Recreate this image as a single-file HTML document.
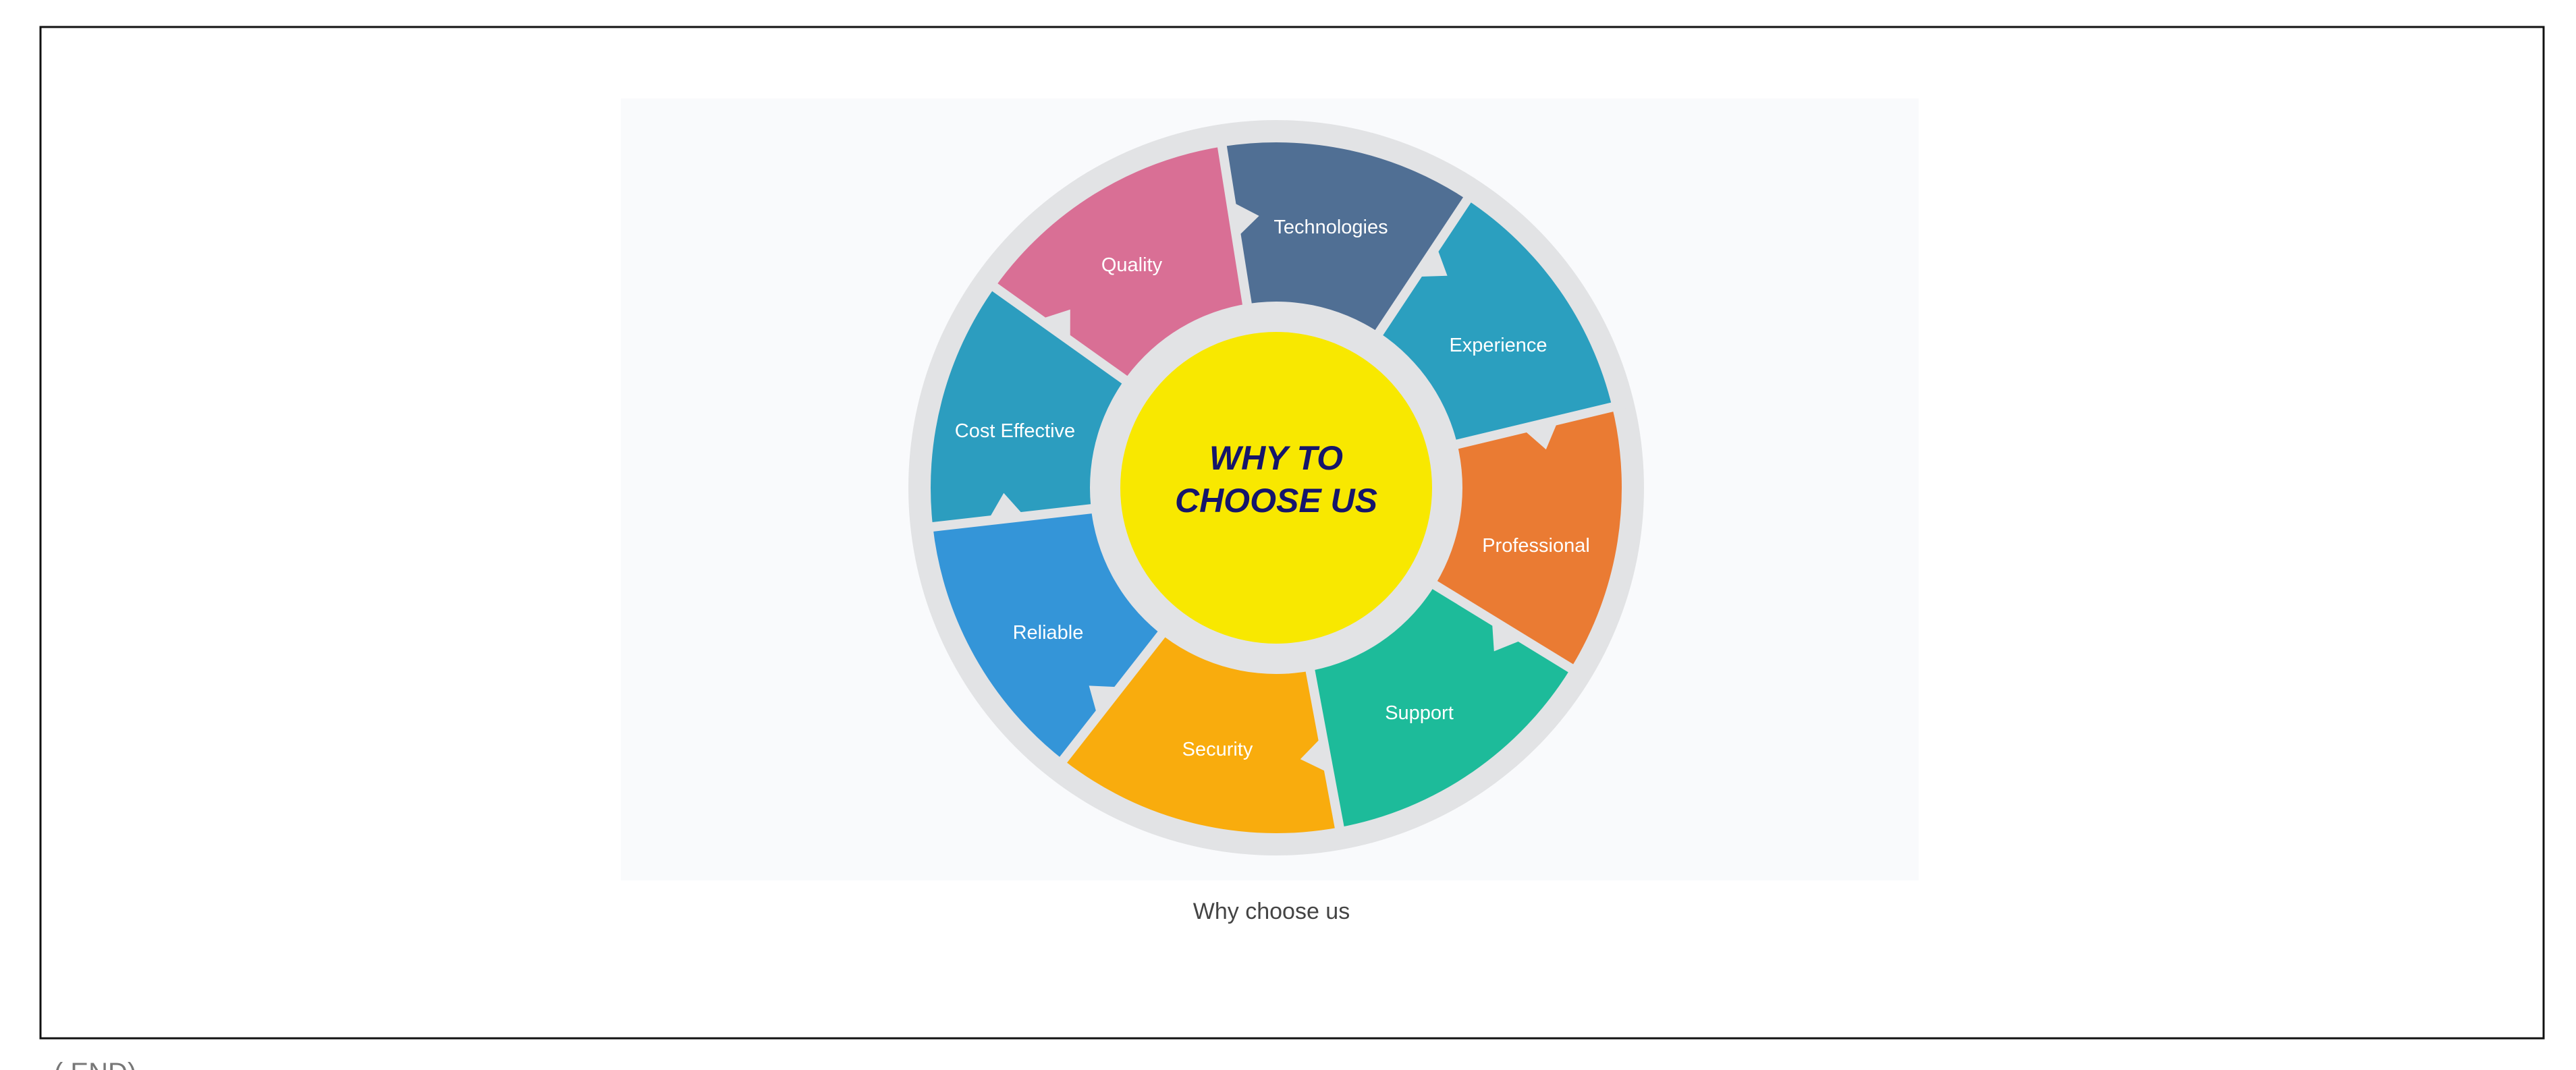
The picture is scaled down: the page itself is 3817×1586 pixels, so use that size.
<!DOCTYPE html>
<html><head><meta charset="utf-8"><style>
html,body{margin:0;padding:0;background:#fff;}
body{width:3817px;height:1586px;overflow:hidden;position:relative;}
</style></head><body>
<svg width="3817" height="1586" viewBox="0 0 3817 1586" xmlns="http://www.w3.org/2000/svg" style="position:absolute;left:0;top:0">
<rect x="60" y="40" width="3709" height="1499" fill="#fff" stroke="#111" stroke-width="3"/>
<rect x="920" y="146" width="1923" height="1159" fill="#f9fafc"/>
<circle cx="1891" cy="723" r="545" fill="#e2e3e5"/>
<g>
<path d="M1891 723 L1810.9 217.3 A512 512 0 0 1 2173.6 296.0 Z" fill="#506f94"/>
<path d="M1891 723 L2173.6 296.0 A512 512 0 0 1 2388.9 603.5 Z" fill="#2b9fbf"/>
<path d="M1891 723 L2388.9 603.5 A512 512 0 0 1 2327.5 990.5 Z" fill="#ea7b33"/>
<path d="M1891 723 L2327.5 990.5 A512 512 0 0 1 1984.3 1226.4 Z" fill="#1dbb9a"/>
<path d="M1891 723 L1984.3 1226.4 A512 512 0 0 1 1575.8 1126.5 Z" fill="#f9ac0d"/>
<path d="M1891 723 L1575.8 1126.5 A512 512 0 0 1 1382.3 781.0 Z" fill="#3495d8"/>
<path d="M1891 723 L1382.3 781.0 A512 512 0 0 1 1474.2 425.7 Z" fill="#2c9dbf"/>
<path d="M1891 723 L1474.2 425.7 A512 512 0 0 1 1810.9 217.3 Z" fill="#d96f95"/>
</g>
<g stroke="#e2e3e5" stroke-width="14">
<line x1="1891" y1="723" x2="1808" y2="199"/>
<line x1="1891" y1="723" x2="2184" y2="281"/>
<line x1="1891" y1="723" x2="2407" y2="599"/>
<line x1="1891" y1="723" x2="2343" y2="1000"/>
<line x1="1891" y1="723" x2="1988" y2="1244"/>
<line x1="1891" y1="723" x2="1564" y2="1141"/>
<line x1="1891" y1="723" x2="1364" y2="783"/>
<line x1="1891" y1="723" x2="1459" y2="415"/>
</g>
<g fill="#e2e3e5">
<polygon points="1832.3,352.6 1823.7,298.3 1865.6,320.0"/>
<polygon points="2098.0,410.3 2128.3,364.4 2144.6,408.8"/>
<polygon points="2255.7,635.5 2309.1,622.6 2290.8,666.2"/>
<polygon points="2210.7,918.9 2257.6,947.7 2213.8,965.4"/>
<polygon points="1959.3,1091.7 1969.3,1145.8 1926.8,1125.2"/>
<polygon points="1660.1,1018.5 1626.2,1061.8 1613.6,1016.4"/>
<polygon points="1518.4,765.5 1463.8,771.7 1487.3,730.7"/>
<polygon points="1585.7,505.2 1540.9,473.3 1585.8,458.7"/>
</g>
<circle cx="1891" cy="723" r="276" fill="#e2e3e5"/>
<circle cx="1891" cy="723" r="231" fill="#f8e800"/>
<g font-family="Liberation Sans, sans-serif" font-size="29" fill="#fff" text-anchor="middle">
<text x="1972" y="346">Technologies</text>
<text x="1677" y="402">Quality</text>
<text x="2220" y="521">Experience</text>
<text x="1504" y="648">Cost Effective</text>
<text x="2276" y="818">Professional</text>
<text x="1553" y="947">Reliable</text>
<text x="2103" y="1066">Support</text>
<text x="1804" y="1120">Security</text>
</g>
<g font-family="Liberation Sans, sans-serif" font-size="50" font-weight="bold" font-style="italic" fill="#15156b" text-anchor="middle">
<text x="1891" y="696">WHY TO</text>
<text x="1891" y="759">CHOOSE US</text>
</g>
<text x="1884" y="1362" font-family="Liberation Sans, sans-serif" font-size="34" fill="#444" text-anchor="middle">Why choose us</text>
<text x="80" y="1603" font-family="Liberation Sans, sans-serif" font-size="40" fill="#777">( END)</text>
</svg>
</body></html>
